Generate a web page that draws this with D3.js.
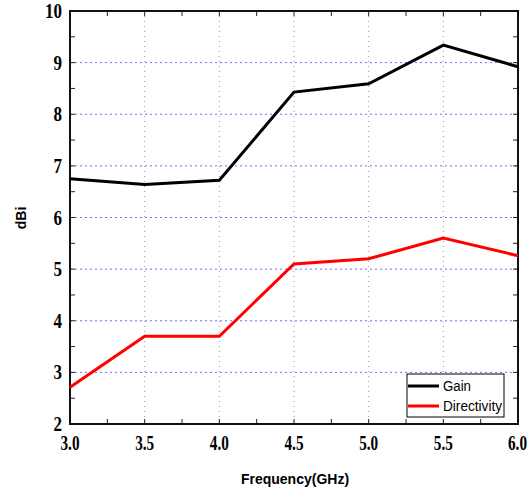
<!DOCTYPE html>
<html>
<head>
<meta charset="utf-8">
<script src="https://cdn.jsdelivr.net/npm/d3@7"></script>
<style>
body { margin: 0; background: #fff; }
</style>
</head>
<body>
<script>
var freq = [3.0, 3.5, 4.0, 4.5, 5.0, 5.5, 6.0];
var gain = [6.75, 6.64, 6.72, 8.43, 8.59, 9.34, 8.92];
var directivity = [2.71, 3.70, 3.70, 5.10, 5.20, 5.60, 5.26];
var xTicks = [3.0, 3.5, 4.0, 4.5, 5.0, 5.5, 6.0];
var yTicks = [2, 3, 4, 5, 6, 7, 8, 9, 10];

var svg = d3.select("body").append("svg")
    .attr("width", 529)
    .attr("height", 491);

var plotL = 70, plotR = 518, plotT = 11, plotB = 424;

var x = d3.scaleLinear().domain([3, 6]).range([plotL, plotR]);
var y = d3.scaleLinear().domain([2, 10]).range([plotB, plotT]);

// grid
svg.selectAll(".vgrid").data(xTicks.slice(1, -1)).enter().append("line")
    .attr("x1", function(d){ return x(d); })
    .attr("x2", function(d){ return x(d); })
    .attr("y1", plotT).attr("y2", plotB)
    .attr("stroke", "#999").attr("stroke-width", 1)
    .attr("stroke-dasharray", "1,4");
svg.selectAll(".hgrid").data(yTicks.slice(1, -1)).enter().append("line")
    .attr("y1", function(d){ return y(d); })
    .attr("y2", function(d){ return y(d); })
    .attr("x1", plotL).attr("x2", plotR)
    .attr("stroke", "#6f6fff").attr("stroke-width", 1)
    .attr("stroke-dasharray", "2,3");

// minor ticks all sides
var xMinor = d3.range(3, 6.001, 0.25);
var yMinor = d3.range(2, 10.001, 0.5);
xMinor.forEach(function(d){
    svg.append("line").attr("x1", x(d)).attr("x2", x(d)).attr("y1", plotB).attr("y2", plotB - 5).attr("stroke", "#222");
    svg.append("line").attr("x1", x(d)).attr("x2", x(d)).attr("y1", plotT).attr("y2", plotT + 5).attr("stroke", "#222");
});
yMinor.forEach(function(d){
    svg.append("line").attr("y1", y(d)).attr("y2", y(d)).attr("x1", plotL).attr("x2", plotL + 5).attr("stroke", "#222");
    svg.append("line").attr("y1", y(d)).attr("y2", y(d)).attr("x1", plotR).attr("x2", plotR - 5).attr("stroke", "#222");
});

// frame
svg.append("rect")
    .attr("x", plotL).attr("y", plotT)
    .attr("width", plotR - plotL).attr("height", plotB - plotT)
    .attr("fill", "none").attr("stroke", "#111").attr("stroke-width", 2);

// series
var line = d3.line()
    .x(function(d, i){ return x(freq[i]); })
    .y(function(d){ return y(d); });

svg.append("path").attr("d", line(gain))
    .attr("fill", "none").attr("stroke", "#000").attr("stroke-width", 3);
svg.append("path").attr("d", line(directivity))
    .attr("fill", "none").attr("stroke", "#ff0000").attr("stroke-width", 3);

// tick labels (narrow bold serif); last one anchored at its right end so it stays inside
svg.selectAll(".xl").data(xTicks).enter().append("text")
    .attr("x", function(d){ return d === 6 ? x(d) + 9 : x(d); })
    .attr("y", plotB + 26)
    .attr("text-anchor", function(d){ return d === 6 ? "end" : "middle"; })
    .attr("font-family", "Liberation Serif, Times New Roman, serif")
    .attr("font-weight", "bold").attr("font-size", 20)
    .attr("textLength", 19).attr("lengthAdjust", "spacingAndGlyphs")
    .text(function(d){ return d.toFixed(1); });
svg.selectAll(".yl").data(yTicks).enter().append("text")
    .attr("x", plotL - 8)
    .attr("y", function(d){ return y(d) + 7; })
    .attr("text-anchor", "end")
    .attr("font-family", "Liberation Serif, Times New Roman, serif")
    .attr("font-weight", "bold").attr("font-size", 20)
    .attr("textLength", function(d){ return String(d).length * 8.5; })
    .attr("lengthAdjust", "spacingAndGlyphs")
    .text(function(d){ return d; });

// axis titles
svg.append("text")
    .attr("x", 295).attr("y", 484)
    .attr("text-anchor", "middle")
    .attr("font-family", "Liberation Sans, Arial, sans-serif")
    .attr("font-weight", "bold").attr("font-size", 14)
    .text("Frequency(GHz)");
svg.append("text")
    .attr("transform", "translate(26,218) rotate(-90)")
    .attr("text-anchor", "middle")
    .attr("font-family", "Liberation Sans, Arial, sans-serif")
    .attr("font-weight", "bold").attr("font-size", 14)
    .text("dBi");

// legend
var legend = svg.append("g");
legend.append("rect")
    .attr("x", 407).attr("y", 374).attr("width", 97).attr("height", 43)
    .attr("fill", "#fff").attr("stroke", "#000").attr("stroke-width", 1);
var legendItems = [["Gain", "#000"], ["Directivity", "#ff0000"]];
legendItems.forEach(function(d, i){
    var ly = 386 + i * 20;
    legend.append("line").attr("x1", 408).attr("x2", 439).attr("y1", ly).attr("y2", ly)
        .attr("stroke", d[1]).attr("stroke-width", 3);
    legend.append("text").attr("x", 443).attr("y", ly + 5)
        .attr("font-family", "Liberation Sans, Arial, sans-serif")
        .attr("font-size", 14).attr("textLength", i ? 59 : 28)
        .attr("lengthAdjust", "spacingAndGlyphs")
        .text(d[0]);
});
</script>
</body>
</html>
